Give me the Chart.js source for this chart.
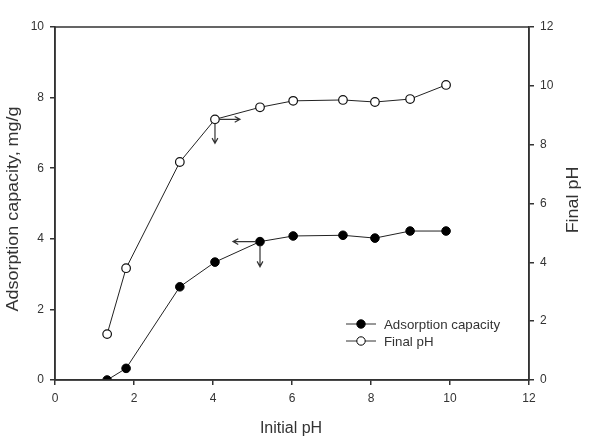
<!DOCTYPE html>
<html>
<head>
<meta charset="utf-8">
<script src="https://cdn.jsdelivr.net/npm/chart.js@4.4.1/dist/chart.umd.min.js"></script>
<style>
  html, body { margin:0; padding:0; background:#fff; }
  #wrap { width:591px; height:439px; }
</style>
</head>
<body>
<div id="wrap"><canvas id="c" width="591" height="439"></canvas></div>
<script>
/* ===== DATA ===== */
const initialPH   = [1.32, 1.80, 3.16, 4.05, 5.19, 6.03, 7.29, 8.10, 8.99, 9.90];
const adsorption  = [0.00, 0.33, 2.64, 3.34, 3.92, 4.08, 4.10, 4.02, 4.22, 4.22];
const finalPH     = [1.56, 3.80, 7.41, 8.86, 9.27, 9.49, 9.52, 9.45, 9.55, 10.03];
const xTicks  = [0, 2, 4, 6, 8, 10, 12];
const yTicks  = [0, 2, 4, 6, 8, 10];
const y2Ticks = [0, 2, 4, 6, 8, 10, 12];

const INK = '#333';
const FONT = "Arial, 'Liberation Sans', sans-serif";

const pts = (ys) => initialPH.map((x, i) => ({ x, y: ys[i] }));

/* frame, arrows, legend, axis titles */
const decor = {
  id: 'decor',
  afterDraw(chart) {
    const { ctx, chartArea: a, scales } = chart;
    ctx.save();
    ctx.strokeStyle = INK; ctx.lineWidth = 1.5;
    ctx.strokeRect(a.left, a.top, a.right - a.left, a.bottom - a.top);

    // arrows pointing to each series' own axis
    const arrow = (x0, y0, dx, dy) => {
      const x1 = x0 + dx, y1 = y0 + dy, ang = Math.atan2(dy, dx), h = 6;
      ctx.beginPath(); ctx.moveTo(x0, y0); ctx.lineTo(x1, y1);
      ctx.moveTo(x1 - h*Math.cos(ang - 0.5), y1 - h*Math.sin(ang - 0.5));
      ctx.lineTo(x1, y1);
      ctx.lineTo(x1 - h*Math.cos(ang + 0.5), y1 - h*Math.sin(ang + 0.5));
      ctx.stroke();
    };
    ctx.lineWidth = 1.2;
    const px = scales.x.getPixelForValue(initialPH[3]), py = scales.y2.getPixelForValue(finalPH[3]);
    arrow(px + 4, py, 21, 0);
    arrow(px, py + 4, 0, 20);
    const qx = scales.x.getPixelForValue(initialPH[4]), qy = scales.y.getPixelForValue(adsorption[4]);
    arrow(qx - 4, qy, -23, 0);
    arrow(qx, qy + 4, 0, 21);

    // legend
    const rows = [['Adsorption capacity', '#000'], ['Final pH', '#fff']];
    ctx.font = '13.3px ' + FONT; ctx.textBaseline = 'middle'; ctx.fillStyle = INK;
    rows.forEach(([label, fill], i) => {
      const y = 324 + i * 17;
      ctx.lineWidth = 1; ctx.strokeStyle = INK;
      ctx.beginPath(); ctx.moveTo(346, y); ctx.lineTo(376, y); ctx.stroke();
      ctx.beginPath(); ctx.arc(361, y, 4.2, 0, Math.PI*2);
      ctx.fillStyle = fill; ctx.fill(); ctx.strokeStyle = '#000'; ctx.stroke();
      ctx.fillStyle = INK; ctx.textAlign = 'left';
      ctx.fillText(label, 384, y + 1);
    });

    // axis titles
    ctx.font = '16px ' + FONT; ctx.textAlign = 'center'; ctx.fillStyle = INK;
    ctx.fillText('Initial pH', (a.left + a.right) / 2 - 1, 429);
    ctx.save(); ctx.translate(14, 209); ctx.rotate(-Math.PI/2); ctx.scale(1.12, 1);
    ctx.fillText('Adsorption capacity, mg/g', 0, 0); ctx.restore();
    ctx.save(); ctx.translate(574, 200); ctx.rotate(-Math.PI/2); ctx.scale(1.12, 1);
    ctx.fillText('Final pH', 0, 0); ctx.restore();
    ctx.restore();
  }
};

const tickFont = { family: FONT, size: 12 };
const axisGrid = { drawOnChartArea:false, drawTicks:true, tickLength:5, color:INK, lineWidth:1.5 };

new Chart(document.getElementById('c'), {
  type: 'line',
  data: {
    datasets: [
      { label:'Adsorption capacity', data: pts(adsorption), yAxisID:'y',
        borderColor:'#222', borderWidth:1, backgroundColor:'#000',
        pointBackgroundColor:'#000', pointBorderColor:'#000', pointRadius:4.3, tension:0 },
      { label:'Final pH', data: pts(finalPH), yAxisID:'y2',
        borderColor:'#222', borderWidth:1, backgroundColor:'#fff',
        pointBackgroundColor:'#fff', pointBorderColor:'#111', pointBorderWidth:1.2, pointRadius:4.3, tension:0 },
    ]
  },
  options: {
    responsive:false, animation:false, devicePixelRatio:1,
    layout:{ padding:{ top:27, left:0, right:0, bottom:0 } },
    plugins:{ legend:{display:false}, tooltip:{enabled:false} },
    scales:{
      x:{ type:'linear', min:0, max:12,
        afterBuildTicks: s => { s.ticks = xTicks.map(v => ({ value:v })); },
        afterFit: s => { s.height = 439 - 380; },
        grid: axisGrid, border:{ color:INK, width:1.5 },
        ticks:{ font:tickFont, color:INK, padding:6, maxRotation:0 } },
      y:{ type:'linear', position:'left', min:0, max:10,
        afterBuildTicks: s => { s.ticks = yTicks.map(v => ({ value:v })); },
        afterFit: s => { s.width = 55; },
        grid: axisGrid, border:{ color:INK, width:1.5 },
        ticks:{ font:tickFont, color:INK, padding:6 } },
      y2:{ type:'linear', position:'right', min:0, max:12,
        afterBuildTicks: s => { s.ticks = y2Ticks.map(v => ({ value:v })); },
        afterFit: s => { s.width = 591 - 529; },
        grid: axisGrid, border:{ color:INK, width:1.5 },
        ticks:{ font:tickFont, color:INK, padding:6 } }
    }
  },
  plugins:[decor]
});
</script>
</body>
</html>
